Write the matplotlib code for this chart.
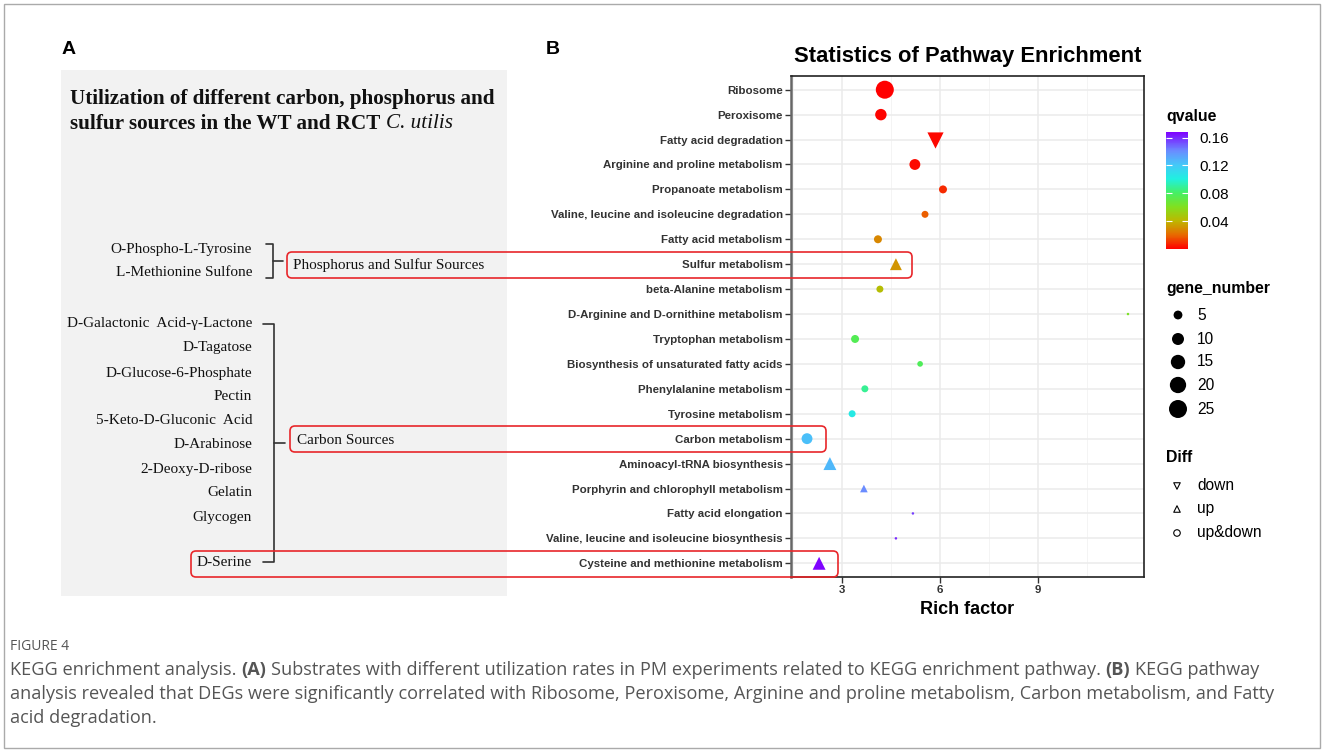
import matplotlib.pyplot as plt
import numpy as np
from matplotlib.colors import LinearSegmentedColormap, Normalize
from matplotlib.patches import FancyBboxPatch, Rectangle
from matplotlib.cm import ScalarMappable

# ---- data (panel B) ----
pathways = ["Ribosome", "Peroxisome", "Fatty acid degradation",
            "Arginine and proline metabolism", "Propanoate metabolism",
            "Valine, leucine and isoleucine degradation", "Fatty acid metabolism",
            "Sulfur metabolism", "beta-Alanine metabolism",
            "D-Arginine and D-ornithine metabolism", "Tryptophan metabolism",
            "Biosynthesis of unsaturated fatty acids", "Phenylalanine metabolism",
            "Tyrosine metabolism", "Carbon metabolism", "Aminoacyl-tRNA biosynthesis",
            "Porphyrin and chlorophyll metabolism", "Fatty acid elongation",
            "Valine, leucine and isoleucine biosynthesis",
            "Cysteine and methionine metabolism"]
rich_factor = [4.31, 4.19, 5.84, 5.23, 6.09, 5.54, 4.10, 4.65, 4.16, 11.75,
               3.40, 5.39, 3.70, 3.31, 1.93, 2.63, 3.67, 5.17, 4.65, 2.30]
qvalue = [0.0005, 0.001, 0.0015, 0.002, 0.008, 0.018, 0.028, 0.031, 0.043, 0.062,
          0.076, 0.077, 0.088, 0.104, 0.124, 0.126, 0.141, 0.156, 0.160, 0.167]
gene_number = [25, 9, 10, 8, 4, 3, 4, 5, 3, 1, 4, 2, 3, 3, 8, 6, 2, 1, 1, 6]
diff = ["up&down", "up&down", "down", "up&down", "up&down", "up&down", "up&down",
        "up", "up&down", "up&down", "up&down", "up&down", "up&down", "up&down",
        "up&down", "up", "up", "up&down", "up&down", "up"]

# ---- data (panel A) ----
ps_sources = ["O-Phospho-L-Tyrosine", "L-Methionine Sulfone"]
c_sources = ["D-Galactonic  Acid-γ-Lactone", "D-Tagatose", "D-Glucose-6-Phosphate",
             "Pectin", "5-Keto-D-Gluconic  Acid", "D-Arabinose", "2-Deoxy-D-ribose",
             "Gelatin", "Glycogen"]
serine = "D-Serine"

size_breaks = [5, 10, 15, 20, 25]
q_ticks = [0.04, 0.08, 0.12, 0.16]
diff_levels = ["down", "up", "up&down"]
diff_marker = {"down": "v", "up": "^", "up&down": "o"}

W, H = 1328, 756
fig = plt.figure(figsize=(W / 100, H / 100), dpi=100)


def box(x0, y0, x1, y1):
    return [x0 / W, 1 - y1 / H, (x1 - x0) / W, (y1 - y0) / H]


def diam(g):
    # ggplot-like area scale, diameter in px -> points
    return (2.5 + 15.5 * np.sqrt((np.asarray(g) - 1) / 24)) * 0.72


cmap = LinearSegmentedColormap.from_list("q", [
    (0.0, "#FF0000"), (0.12, "#E86A00"), (0.24, "#BDB800"), (0.36, "#80E020"),
    (0.48, "#45F065"), (0.60, "#20F0E0"), (0.72, "#45C8F8"), (0.84, "#6A8CFF"),
    (1.0, "#8000FF")])
norm = Normalize(0, 0.168)

# ---- panel B plot ----
ax = fig.add_axes(box(791, 76, 1144, 577))
n = len(pathways)
ypos = np.arange(n)[::-1]
rf = np.array(rich_factor)
qv = np.array(qvalue)
gn = np.array(gene_number)
df = np.array(diff)
for lev in diff_levels:
    m = df == lev
    k = 1.0 if lev == "up&down" else 1.35
    ax.scatter(rf[m], ypos[m], s=(diam(gn[m]) * k) ** 2, c=qv[m], cmap=cmap,
               norm=norm, marker=diff_marker[lev], linewidths=0, zorder=3)

ax.set_xlim(1.44, 12.24)
ax.set_ylim(-0.55, n - 0.45)
ax.set_xticks([3, 6, 9])
ax.set_xticks([1.5, 4.5, 7.5, 10.5], minor=True)
ax.set_yticks(ypos)
ax.set_yticklabels(pathways)
for lab in ax.get_yticklabels() + ax.get_xticklabels():
    lab.set_fontweight("bold")
    lab.set_family("Liberation Sans")
    lab.set_color("#333333")
    lab.set_fontsize(8.25)
ax.tick_params(axis="both", which="major", length=4, width=1, color="#333333", pad=2)
ax.tick_params(axis="both", which="minor", length=0)
ax.grid(which="major", color="#EBEBEB", lw=1.1, zorder=0)
ax.grid(which="minor", axis="x", color="#F4F4F4", lw=0.7, zorder=0)
ax.set_axisbelow(True)
for sp in ax.spines.values():
    sp.set_color("#222222")
    sp.set_linewidth(1.2)
ax.spines["left"].set_color("#666666")
ax.spines["left"].set_linewidth(1.8)
ax.set_title("Statistics of Pathway Enrichment", fontsize=15.8, fontweight="bold",
             family="Liberation Sans", pad=10)
ax.set_xlabel("Rich factor", fontsize=13, fontweight="bold",
              family="Liberation Sans", labelpad=4)

# colorbar
cax = fig.add_axes(box(1166, 132, 1188, 249))
cb = fig.colorbar(ScalarMappable(norm=norm, cmap=cmap), cax=cax, ticks=q_ticks)
cb.outline.set_visible(False)
cb.ax.yaxis.set_ticks_position("both")
cb.ax.tick_params(length=4, width=0.8, color="white", direction="in", pad=8,
                  labelsize=11, labelleft=False, labelright=True)
cb.ax.set_yticklabels([f"{t:.2f}" for t in q_ticks], family="Liberation Sans")

# ---- overlay in pixel coordinates ----
ov = fig.add_axes([0, 0, 1, 1])
ov.set_xlim(0, W)
ov.set_ylim(H, 0)
ov.axis("off")

ov.add_patch(Rectangle((4, 4), 1316, 744, fill=False, ec="#AAAAAA", lw=1))
ov.text(62, 50, "A", fontsize=14, fontweight="bold", family="Liberation Sans", va="center")
ov.text(546, 50, "B", fontsize=14, fontweight="bold", family="Liberation Sans", va="center")
ov.add_patch(Rectangle((61, 70), 446, 526, fc="#F2F2F2", ec="none"))

renderer = fig.canvas.get_renderer()
inv = ov.transData.inverted()


def text_w(s, **kw):
    t = ov.text(0, 0, s, **kw)
    bb = t.get_window_extent(renderer)
    t.remove()
    return bb.width


def runs(x, y, parts, **kw):
    gap = text_w("n n", **kw) - text_w("nn", **kw)
    for s, style in parts:
        t = ov.text(x, y, s, va="center", **kw, **style)
        bb = t.get_window_extent(renderer)
        x = inv.transform((bb.x1, bb.y0))[0] + gap


serif = dict(family="Liberation Serif", color="#111111")
ov.text(70, 99, "Utilization of different carbon, phosphorus and", fontsize=15.2,
        fontweight="bold", va="center", **serif)
runs(70, 124, [("sulfur sources in the WT and RCT", {"fontweight": "bold"}),
               ("C. utilis", {"fontstyle": "italic"})], fontsize=15.2, **serif)

item_fs = 11
for i, s in enumerate(ps_sources):
    ov.text(252, 250 + 23 * i, s, fontsize=item_fs, ha="right", va="center", **serif)
c_y = [324, 348, 373, 396, 420, 445, 469, 493, 518]
for s, y in zip(c_sources, c_y):
    ov.text(252, y, s, fontsize=item_fs, ha="right", va="center", **serif)
ov.text(252, 563, serine, fontsize=item_fs, ha="right", va="center", **serif)

bk = dict(color="#333333", lw=1.2, solid_capstyle="round")
ov.plot([266, 273, 273, 266], [244, 244, 278, 278], **bk)
ov.plot([273, 283], [261, 261], **bk)
ov.plot([263, 274, 274, 263], [324, 324, 562, 562], **bk)
ov.plot([274, 285], [443, 443], **bk)

ov.text(293, 265, "Phosphorus and Sulfur Sources", fontsize=item_fs, va="center", **serif)
ov.text(297, 440, "Carbon Sources", fontsize=item_fs, va="center", **serif)

for x0, y0, x1, y1 in [(287, 252, 912, 278), (290, 426, 826, 452), (191, 551, 838, 577)]:
    ov.add_patch(FancyBboxPatch((x0, y0), x1 - x0, y1 - y0,
                                boxstyle="round,pad=0,rounding_size=5",
                                fc="none", ec="#E8262A", lw=1.2, zorder=5))

# legends
lg = dict(family="Liberation Sans", fontsize=11.4, fontweight="bold", va="center")
ov.text(1166, 117, "qvalue", **lg)
ov.text(1166, 288, "gene_number", **lg)
ov.text(1166, 458, "Diff", **lg)
leg_y = [315, 339, 362, 385, 409]
ov.scatter([1178] * len(size_breaks), leg_y, s=diam(size_breaks) ** 2, color="black",
           linewidths=0)
for b, y in zip(size_breaks, leg_y):
    ov.text(1197, y, str(b), fontsize=11.2, family="Liberation Sans", va="center")
for lev, y in zip(diff_levels, [486, 509, 533]):
    ov.scatter([1177], [y], s=22, marker=diff_marker[lev], facecolor="none",
               edgecolor="black", linewidths=0.8)
    ov.text(1197, y, lev, fontsize=11.2, family="Liberation Sans", va="center")

# caption
cap = dict(family="Open Sans", fontsize=13.1, color="#555555")
ov.text(10, 646, "FIGURE 4", family="Open Sans", fontsize=10, color="#555555", va="center")
runs(10, 670, [("KEGG enrichment analysis.", {}), ("(A)", {"fontweight": "bold"}),
               ("Substrates with different utilization rates in PM experiments related "
                "to KEGG enrichment pathway.", {}),
               ("(B)", {"fontweight": "bold"}), ("KEGG pathway", {})], **cap)
ov.text(10, 694, "analysis revealed that DEGs were significantly correlated with Ribosome, "
        "Peroxisome, Arginine and proline metabolism, Carbon metabolism, and Fatty",
        va="center", **cap)
ov.text(10, 718, "acid degradation.", va="center", **cap)

fig.savefig("out.png", dpi=100)
